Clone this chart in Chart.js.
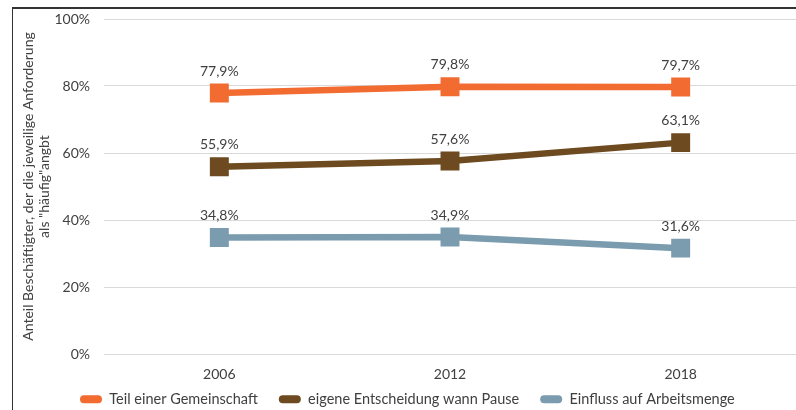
<!DOCTYPE html>
<html>
<head>
<meta charset="utf-8">
<script src="https://cdn.jsdelivr.net/npm/chart.js@4.4.1/dist/chart.umd.min.js"></script>
<style>
  html,body{margin:0;padding:0;background:#fff;}
  #wrap{position:relative;width:796px;height:410px;overflow:hidden;}
  #frame{position:absolute;left:12px;top:7px;right:-2px;bottom:-2px;
         border-left:1px solid #333;border-top:2px solid #333;}
  canvas{position:absolute;left:0;top:0;}
</style>
</head>
<body>
<div id="wrap">
  <div id="frame"></div>
  <canvas id="chart" width="796" height="410"></canvas>
</div>
<script>
// ── Data ────────────────────────────────────────────────────────────────────
const YEARS      = ["2006", "2012", "2018"];
const GEMEINSCH  = [77.9, 79.8, 79.7];
const PAUSE      = [55.9, 57.6, 63.1];
const ARBMENGE   = [34.8, 34.9, 31.6];
const SERIES     = ["Teil einer Gemeinschaft", "eigene Entscheidung wann Pause", "Einfluss auf Arbeitsmenge"];
const COLORS     = ["#F26B30", "#6D4A1F", "#7B9BAE"];
const Y_TITLE    = ["Anteil Beschäftigter, der die jeweilige Anforderung", "als \"häufig\"angbt"];

const TXT  = "#404040";
const FONT = "Lato, 'Open Sans', sans-serif";
Chart.defaults.font.family = FONT;
Chart.defaults.font.size = 14;
Chart.defaults.color = TXT;

function mkSet(label, data, color){
    return {label, data, borderColor:color, backgroundColor:color,
        borderWidth:6.5, tension:0, pointStyle:"rect", pointRadius:13.4,
        pointHoverRadius:13.4, pointBorderWidth:0, pointBackgroundColor:color};
}

// value labels above each point, placed from the element positions
const valueLabels = {
    id:"valueLabels",
    afterDatasetsDraw(chart){
        const ctx = chart.ctx;
        ctx.save();
        ctx.font = "14px " + FONT;
        ctx.fillStyle = TXT;
        ctx.textAlign = "center";
        ctx.textBaseline = "middle";
        chart.data.datasets.forEach((ds,i)=>{
            chart.getDatasetMeta(i).data.forEach((el,j)=>{
                ctx.fillText(ds.data[j].toFixed(1).replace(".", ",")+"%", el.x, el.y-22);
            });
        });
        ctx.restore();
    }
};

// put the legend where the original has it
const legendShift = {
    id:"legendShift",
    afterLayout(chart){
        chart.legend.left = 59;
        chart.legend.top  = 371;
    }
};

new Chart(document.getElementById("chart"), {
    type:"line",
    data:{
        labels:YEARS,
        datasets:[
            mkSet(SERIES[0], GEMEINSCH, COLORS[0]),
            mkSet(SERIES[1], PAUSE,     COLORS[1]),
            mkSet(SERIES[2], ARBMENGE,  COLORS[2]),
        ]
    },
    options:{
        responsive:false, animation:false,
        layout:{autoPadding:false, padding:{top:19, right:0, bottom:-29.5, left:0}},
        plugins:{
            tooltip:{enabled:false},
            legend:{
                position:"bottom", align:"start",
                labels:{
                    boxWidth:22, boxHeight:8, padding:21,
                    useBorderRadius:true, borderRadius:4,
                    color:TXT, font:{size:14.5},
                    generateLabels(chart){
                        const items = Chart.defaults.plugins.legend.labels.generateLabels(chart);
                        items.forEach(it=>{ it.lineWidth = 0; });
                        return items;
                    }
                }
            }
        },
        scales:{
            x:{
                offset:true,
                grid:{display:false, drawTicks:false},
                border:{display:false},
                ticks:{padding:11.6, color:TXT}
            },
            y:{
                min:0, max:100,
                grid:{color:"#D9D9D9", drawTicks:false, lineWidth:1},
                border:{display:false},
                ticks:{stepSize:20, padding:14, color:TXT, callback:v=>v+"%"},
                title:{display:true, text:Y_TITLE, color:TXT, font:{size:14, lineHeight:1.1}, padding:{top:21, bottom:0}},
                afterFit(s){ s.width = 104; s.paddingTop = 0; s.paddingBottom = 0; }
            }
        }
    },
    plugins:[valueLabels, legendShift]
});
</script>
</body>
</html>
